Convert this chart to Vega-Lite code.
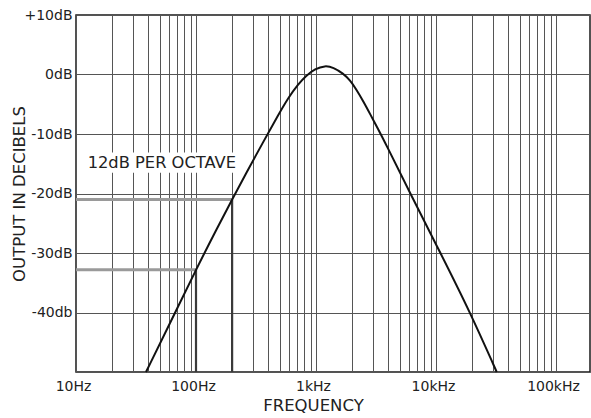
{
  "$schema": "https://vega.github.io/schema/vega-lite/v6.json",
  "width": 514,
  "height": 357,
  "autosize": {"type": "none"},
  "padding": {"left": 76, "top": 15, "right": 1, "bottom": 46},
  "background": "white",
  "config": {
    "view": {"stroke": "#1a1a1a", "strokeWidth": 1.5},
    "font": "DejaVu Sans"
  },
  "datasets": {
    "curve": [
      {"f": 38.3, "db": -50},
      {"f": 60, "db": -42},
      {"f": 100, "db": -32.8},
      {"f": 150, "db": -25.8},
      {"f": 200, "db": -21},
      {"f": 260, "db": -16.7},
      {"f": 364, "db": -11.3},
      {"f": 485, "db": -6.8},
      {"f": 588, "db": -3.9},
      {"f": 712, "db": -1.6},
      {"f": 826, "db": -0.2},
      {"f": 982, "db": 0.95},
      {"f": 1189, "db": 1.5},
      {"f": 1393, "db": 1.2},
      {"f": 1689, "db": 0.15},
      {"f": 1920, "db": -0.95},
      {"f": 2183, "db": -2.6},
      {"f": 2478, "db": -4.5},
      {"f": 2818, "db": -6.6},
      {"f": 3318, "db": -9.3},
      {"f": 3758, "db": -11.4},
      {"f": 6067, "db": -19.9},
      {"f": 10890, "db": -30},
      {"f": 19190, "db": -39.9},
      {"f": 32060, "db": -50}
    ],
    "levels": [
      {"f": 10, "f2": 200, "db": -21, "db2": -21},
      {"f": 10, "f2": 100, "db": -32.8, "db2": -32.8}
    ],
    "drops": [
      {"f": 100, "f2": 100, "db": -50, "db2": -32.8},
      {"f": 200, "f2": 200, "db": -50, "db2": -21}
    ],
    "notebox": [
      {"f": 12.2, "f2": 240, "db": -13.1, "db2": -16.5}
    ],
    "note": [
      {"f": 12.5, "db": -14.8, "label": "12dB PER OCTAVE"}
    ]
  },
  "encoding": {
    "x": {
      "field": "f",
      "type": "quantitative",
      "scale": {"type": "log", "domain": [10, 192000], "nice": false},
      "axis": {
        "values": [10, 20, 30, 40, 50, 60, 70, 80, 90, 100, 200, 300, 400, 500, 600, 700, 800, 900, 1000, 2000, 3000, 4000, 5000, 6000, 7000, 8000, 9000, 10000, 20000, 30000, 40000, 50000, 60000, 70000, 80000, 90000, 100000],
        "grid": true,
        "gridColor": "#555",
        "gridWidth": 1,
        "gridOpacity": 1,
        "domain": false,
        "ticks": false,
        "tickSize": 0,
        "labelPadding": 7,
        "labelFont": "DejaVu Sans",
        "labelFontSize": 14,
        "labelColor": "#222",
        "labelOverlap": false,
        "labelFlush": false,
        "labelOffset": -3,
        "labelExpr": "datum.value == 10 ? '10Hz' : datum.value == 100 ? '100Hz' : datum.value == 1000 ? '1kHz' : datum.value == 10000 ? '10kHz' : datum.value == 100000 ? '100kHz' : ''",
        "title": "FREQUENCY",
        "titleFont": "DejaVu Sans",
        "titleFontSize": 16.5,
        "titleFontWeight": "normal",
        "titleColor": "#222",
        "titleX": 237,
        "titleY": 33,
        "titleAlign": "center",
        "titleBaseline": "middle"
      }
    },
    "y": {
      "field": "db",
      "type": "quantitative",
      "scale": {"domain": [-50, 10], "nice": false, "zero": false},
      "axis": {
        "values": [10, 0, -10, -20, -30, -40, -50],
        "grid": true,
        "gridColor": "#555",
        "gridWidth": 1,
        "gridOpacity": 1,
        "domain": false,
        "ticks": false,
        "tickSize": 0,
        "labelPadding": 4,
        "labelFont": "DejaVu Sans",
        "labelFontSize": 14,
        "labelColor": "#222",
        "labelOverlap": false,
        "labelFlush": false,
        "labelExpr": "datum.value == 10 ? '+10dB' : datum.value == -40 ? '-40db' : datum.value == -50 ? '' : datum.value + 'dB'",
        "title": "OUTPUT IN DECIBELS",
        "titleFont": "DejaVu Sans",
        "titleFontSize": 16.5,
        "titleFontWeight": "normal",
        "titleColor": "#222",
        "titleAngle": -90,
        "titleX": -57,
        "titleY": 178.5,
        "titleAlign": "center",
        "titleBaseline": "middle"
      }
    }
  },
  "layer": [
    {
      "data": {"name": "levels"},
      "mark": {"type": "rule", "color": "#9a9a9a", "strokeWidth": 3},
      "encoding": {"x2": {"field": "f2"}, "y2": {"field": "db2"}}
    },
    {
      "data": {"name": "drops"},
      "mark": {"type": "rule", "color": "#3a3a3a", "strokeWidth": 2.2},
      "encoding": {"x2": {"field": "f2"}, "y2": {"field": "db2"}}
    },
    {
      "data": {"name": "notebox"},
      "mark": {"type": "rect", "color": "white", "opacity": 1},
      "encoding": {"x2": {"field": "f2"}, "y2": {"field": "db2"}}
    },
    {
      "data": {"name": "note"},
      "mark": {"type": "text", "align": "left", "baseline": "middle", "font": "DejaVu Sans", "fontSize": 16.3, "color": "#222"},
      "encoding": {"text": {"field": "label"}}
    },
    {
      "data": {"name": "curve"},
      "mark": {"type": "line", "color": "#111", "strokeWidth": 2, "interpolate": "basis"},
      "encoding": {}
    }
  ]
}
